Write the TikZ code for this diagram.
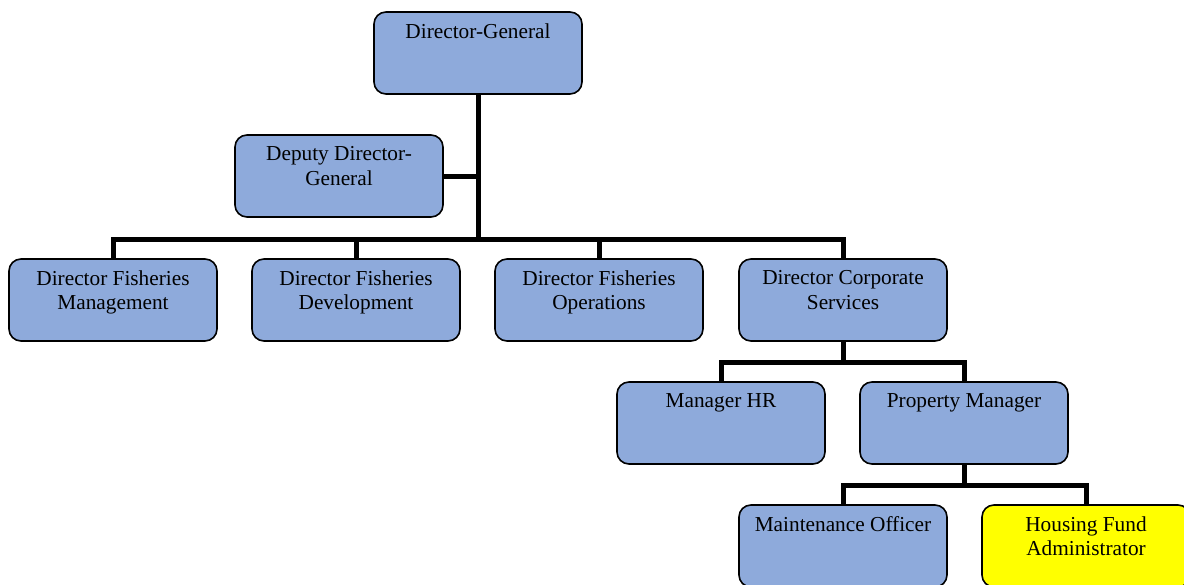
\documentclass[tikz,border=0pt]{standalone}
\usepackage{fontspec}
\setmainfont{Liberation Serif}
\definecolor{boxblue}{HTML}{8EAADB}
\definecolor{boxyellow}{HTML}{FFFF00}
\tikzset{
  post/.style={draw=black, line width=1.6pt, fill=boxblue, rounded corners=12pt,
    minimum width=208pt, minimum height=82pt, inner sep=0pt},
  hilite/.style={post, fill=boxyellow},
  title/.style={anchor=north, inner sep=0pt, align=center, yshift=-12pt,
    font=\fontsize{21.3}{24.5}\selectfont},
  link/.style={draw=black, line width=5pt, line join=miter}
}
\begin{document}
\begin{tikzpicture}[x=1pt,y=-1pt]
  \useasboundingbox (0,0) rectangle (1184,584);
  % boxes
  \node[post] (dg)  at (478,53)  {};
  \node[post] (ddg) at (339,176) {};
  \node[post] (dfm) at (113,300) {};
  \node[post] (dfd) at (356,300) {};
  \node[post] (dfo) at (599,300) {};
  \node[post] (dcs) at (843,300) {};
  \node[post] (mhr) at (721,423) {};
  \node[post] (pm)  at (964,423) {};
  \node[post] (mo)  at (843,546) {};
  \node[hilite] (hfa) at (1086,546) {};
  % texts
  \node[title] (dgt)  at (dg.north)  {Director-General};
  \node[title] (ddgt) at (ddg.north) {Deputy Director-\\General};
  \node[title] (dfmt) at (dfm.north) {Director Fisheries\\Management};
  \node[title] (dfdt) at (dfd.north) {Director Fisheries\\Development};
  \node[title] (dfot) at (dfo.north) {Director Fisheries\\Operations};
  \node[title] (dcst) at (dcs.north) {Director Corporate\\Services};
  \node[title] (mhrt) at (mhr.north) {Manager HR};
  \node[title] (pmt)  at (pm.north)  {Property Manager};
  \node[title] (mot)  at (mo.north)  {Maintenance Officer};
  \node[title] (hfat) at (hfa.north) {Housing Fund\\Administrator};
  % junctions
  \coordinate (bus1) at (478,239);
  \coordinate (bus2) at (843,362);
  \coordinate (bus3) at (964,485);
  % connectors
  \draw[link] (dg.south) -- (bus1);
  \draw[link] (ddg.east) -- (ddg.east -| dg.south);
  \draw[link] (dfm.north) |- (bus1);
  \draw[link] (dfd.north) |- (bus1);
  \draw[link] (dfo.north) |- (bus1);
  \draw[link] (dcs.north) |- (bus1);
  \draw[link] (dcs.south) -- (bus2);
  \draw[link] (mhr.north) |- (bus2);
  \draw[link] (pm.north) |- (bus2);
  \draw[link] (pm.south) -- (bus3);
  \draw[link] (mo.north) |- (bus3);
  \draw[link] (hfa.north) |- (bus3);
\end{tikzpicture}
\end{document}
